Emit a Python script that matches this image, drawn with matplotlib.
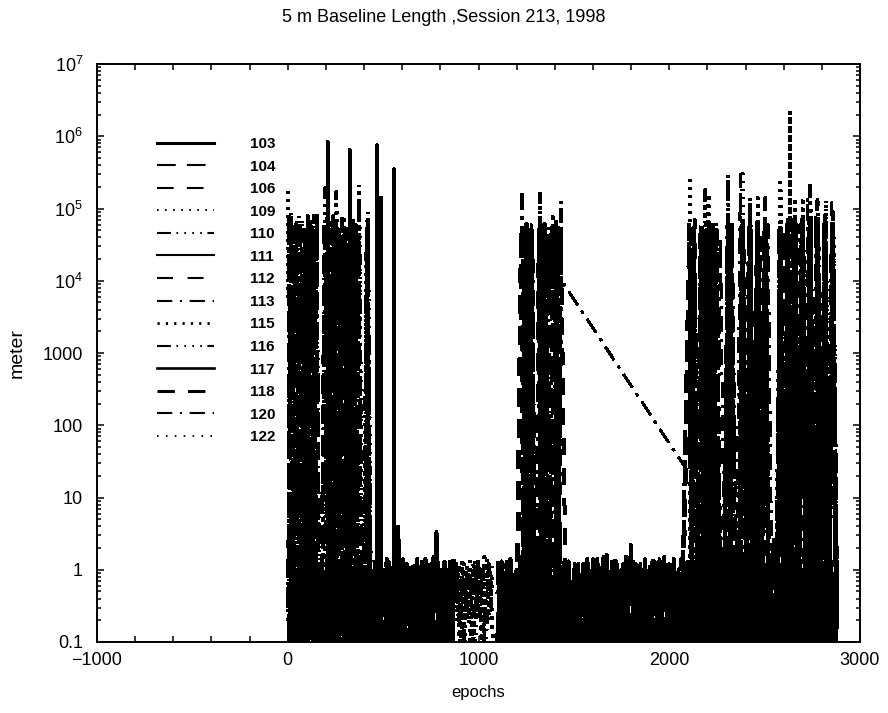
import numpy as np
import matplotlib
matplotlib.use("Agg")
import matplotlib.pyplot as plt
from matplotlib.lines import Line2D
from matplotlib.ticker import FixedLocator, FixedFormatter, MultipleLocator, LogLocator, NullFormatter

plt.rcParams['font.family'] = ['Liberation Sans', 'DejaVu Sans']
plt.rcParams['lines.scale_dashes'] = False

# ---------------- data (epochs, metres) ----------------
SATELLITES = ['103', '104', '106', '109', '110', '111', '112', '113', '115', '116', '117', '118', '120', '122']

Y_TICKS = [0.1, 1, 10, 100, 1000, 1e4, 1e5, 1e6, 1e7]
Y_TICK_LABELS = ['0.1', '1', '10', '100', '1000', r'$\mathregular{10^{4}}$', r'$\mathregular{10^{5}}$',
                 r'$\mathregular{10^{6}}$', r'$\mathregular{10^{7}}$']
X_TICKS = [-1000, 0, 1000, 2000, 3000]
X_TICK_LABELS = ['\u22121000', '0', '1000', '2000', '3000']

# low band, solid satellites (two tracking spans)
L103_A = [0.04, 1.3, 0.06, 1.1, 0.03, 1.6, 0.08, 0.9, 0.05, 1.4, 0.02, 1.2, 0.07, 1.0, 0.04, 1.5, 0.1, 1.2,
          0.03, 0.8, 0.06, 1.3, 0.05, 3.9, 0.04, 1.1, 0.08, 1.4, 0.03, 1.2, 0.06, 3.3, 0.05, 1.0, 0.09, 1.2]
L103_B = [0.05, 1.2, 0.03, 1.4, 0.07, 1.1, 0.04, 1.3, 0.02, 1.0, 0.06, 1.5, 0.03, 1.2, 0.08, 1.3, 0.05, 0.9,
          0.04, 1.4, 0.06, 1.1, 0.03, 1.6, 0.05, 1.2, 0.02, 1.3, 0.07, 1.0, 0.04, 1.4, 0.06, 1.2, 0.03, 1.5,
          0.05, 1.1, 0.08, 1.3, 0.04, 1.2, 0.02, 1.4, 0.06, 1.0, 0.03, 1.3, 0.05, 1.6, 0.04, 1.2, 0.07, 1.1,
          0.03, 1.4, 0.05, 1.3, 0.06, 1.0, 0.02, 1.5, 0.04, 1.2, 0.08, 1.3, 0.05, 1.1, 0.03, 1.4, 0.06, 1.2]
L111_A = [1.2, 0.05, 1.0, 0.03, 1.4, 0.07, 1.1, 0.04, 1.3, 0.06, 0.9, 0.02, 1.2, 0.08, 1.5, 0.05, 1.1, 0.03,
          1.3, 0.06, 1.0, 0.04, 1.2, 0.07, 1.4, 0.03, 1.1, 0.05, 1.3, 0.06, 1.2, 0.04, 1.0, 0.08, 1.3, 0.05]
L111_B = [1.1, 0.04, 1.3, 0.06, 1.0, 0.03, 1.4, 0.07, 1.2, 0.05, 1.5, 0.02, 1.1, 0.06, 1.3, 0.04, 0.9, 0.08,
          1.2, 0.03, 1.4, 0.05, 1.1, 0.06, 1.3, 0.04, 1.0, 0.07, 2.2, 0.03, 1.2, 0.05, 1.1, 0.06, 1.4, 0.04,
          1.2, 0.08, 1.0, 0.03, 1.3, 0.05, 1.5, 0.06, 1.1, 0.04, 1.2, 0.07, 1.4, 0.03, 1.0, 0.05, 1.3, 0.06,
          1.2, 0.04, 1.1, 0.08, 2.6, 0.03, 1.2, 0.05, 1.3, 0.06, 1.0, 0.04, 1.4, 0.07, 1.1, 0.03, 1.3, 0.05]
L117_A = [0.06, 1.1, 0.04, 1.5, 0.08, 1.2, 0.03, 1.0, 0.05, 1.3, 0.07, 1.1, 0.04, 1.4, 0.02, 1.2, 0.06, 0.9,
          0.05, 1.3, 0.03, 1.1, 0.07, 1.5, 0.04, 1.2, 0.06, 1.0, 0.05, 1.4, 0.03, 1.2, 0.08, 1.1, 0.04, 1.3]
L117_B = [0.03, 1.3, 0.06, 1.1, 0.04, 1.5, 0.07, 1.0, 0.05, 1.2, 0.03, 1.4, 0.08, 1.1, 0.04, 1.3, 0.06, 1.2,
          0.02, 1.0, 0.05, 1.4, 0.07, 1.1, 0.03, 1.3, 0.06, 1.5, 0.04, 1.2, 0.05, 1.0, 0.08, 1.3, 0.03, 1.1,
          0.06, 1.4, 0.04, 1.2, 0.07, 1.1, 0.05, 1.6, 0.03, 1.2, 0.06, 1.0, 0.04, 1.3, 0.08, 1.1, 0.05, 1.4,
          0.03, 1.2, 0.06, 1.3, 0.04, 1.0, 0.07, 1.5, 0.05, 1.2, 0.03, 1.1, 0.06, 1.3, 0.04, 1.4, 0.05, 1.2]

# low band, dashed satellites
L104_A = [1.1, 0.05, 1.3, 0.08, 0.9, 0.03, 1.2, 0.06, 1.4, 0.04, 1.0, 0.07, 1.2, 0.05, 1.5, 0.03, 1.1, 0.06]
L104_B = [0.06, 1.2, 0.04, 1.4, 0.08, 1.0, 0.03, 1.3, 0.05, 1.1, 0.07, 1.5, 0.04, 1.2, 0.06, 0.9, 0.03, 1.3,
          0.05, 1.4, 0.08, 1.1, 0.04, 1.2, 0.06, 1.6, 0.03, 1.0, 0.05, 1.3, 0.07, 1.2, 0.04, 1.4, 0.06, 1.1]
L106_A = [0.07, 1.2, 0.04, 1.0, 0.06, 1.4, 0.03, 1.1, 0.08, 1.3, 0.05, 0.9, 0.04, 1.2, 0.06, 1.5, 0.03, 1.1]
L106_B = [1.3, 0.05, 1.1, 0.03, 1.4, 0.07, 1.0, 0.04, 1.2, 0.06, 1.5, 0.03, 1.1, 0.05, 1.3, 0.08, 0.9, 0.04,
          1.2, 0.06, 1.4, 0.03, 1.1, 0.05, 1.3, 0.07, 1.0, 0.04, 1.6, 0.06, 1.2, 0.03, 1.3, 0.05, 1.1, 0.07]
L112_A = [1.0, 0.06, 1.3, 0.04, 1.2, 0.07, 1.5, 0.03, 1.1, 0.05, 1.4, 0.08, 1.0, 0.04, 1.2, 0.06, 1.3, 0.05]
L112_B = [0.04, 1.1, 0.07, 1.3, 0.03, 1.2, 0.05, 1.5, 0.06, 1.0, 0.04, 1.4, 0.08, 1.2, 0.03, 1.1, 0.05, 1.3,
          0.06, 1.0, 0.04, 1.4, 0.07, 1.2, 0.03, 1.5, 0.05, 1.1, 0.06, 1.3, 0.04, 1.2, 0.08, 1.0, 0.05, 1.4]
L118_A = [0.05, 1.4, 0.03, 1.1, 0.07, 1.2, 0.04, 1.6, 0.06, 1.0, 0.03, 1.3, 0.05, 1.2, 0.08, 1.1, 0.04, 1.4]
L118_B = [1.2, 0.04, 1.0, 0.06, 1.3, 0.03, 1.4, 0.05, 1.1, 0.07, 1.2, 0.04, 1.6, 0.06, 1.0, 0.03, 1.3, 0.05,
          1.2, 0.08, 1.1, 0.04, 1.4, 0.06, 1.0, 0.03, 1.2, 0.05, 1.5, 0.07, 1.1, 0.04, 1.3, 0.06, 1.2, 0.05]

# sparse dotted stretch (epochs ~880-1075)
D109 = [0.3, 1.2, 0.1, 0.9, 0.2, 1.3, 0.05, 1.0, 0.3, 1.1, 0.1, 1.4, 0.2, 0.8]
D110 = [1.1, 0.2, 0.8, 0.1, 1.2, 0.3, 0.9, 0.06, 1.3, 0.2, 1.0, 0.1, 1.2, 0.3]
D115 = [1.0, 0.1, 1.3, 0.2, 0.9, 0.05, 1.2, 0.3, 1.1, 0.1, 1.5, 0.2, 1.0, 0.1]
D122 = [0.2, 0.9, 0.08, 1.2, 0.3, 1.0, 0.1, 1.3, 0.2, 0.8, 0.05, 1.1, 0.3, 1.2]

# large-error clusters: left (0-430)
C104_L = [0.3, 4e4, 0.2, 6e4, 0.4, 5e4, 0.3, 8e4, 0.2, 5e4, 0.3, 0.2, 0.4, 7e4, 0.3, 5e4, 0.2, 6e4, 0.4, 4e4,
          0.3, 5e4, 0.2, 7e4, 0.3, 4e4, 0.3, 0.2, 5e4, 0.4]
C106_L = [6e4, 0.3, 5e4, 0.2, 7e4, 0.4, 4e4, 0.3, 6e4, 0.2, 8e4, 0.3, 0.2, 0.4, 5e4, 0.3, 7e4, 0.2, 4e4, 0.3,
          6e4, 0.4, 5e4, 0.2, 6e4, 0.3, 0.4, 0.2, 7e4, 0.3]
C109_L = [1.7e5, 0.3, 6e4, 0.2, 8e4, 0.4, 5e4, 0.3, 7e4, 0.2, 4e4, 0.5, 0.3, 0.4, 9e4, 0.3, 6e4, 0.2, 5e4, 0.4,
          7e4, 0.3, 3e5, 0.2, 6e4, 0.4, 0.3, 0.2, 5e4, 0.3]
C110_L = [0.3, 9e4, 0.4, 5e4, 0.2, 7e4, 0.3, 6e4, 0.5, 8e4, 0.2, 0.4, 0.3, 1.9e5, 0.2, 5e4, 0.4, 1.7e5, 0.3, 6e4,
          0.2, 4e4, 0.3, 7e4, 0.4, 2.1e5, 0.3, 0.2, 9e4, 0.4]
C116_L = [8e4, 0.2, 4e4, 0.3, 6e4, 0.4, 3e4, 0.2, 7e4, 0.3, 5e4, 0.2, 0.4, 0.3, 6e4, 0.2, 8e4, 0.4, 5e4, 0.3,
          4e4, 0.2, 6e4, 0.3, 5e4, 0.4, 0.2, 0.3, 4e4, 0.2]
C122_L = [0.2, 5e4, 0.3, 7e4, 0.4, 4e4, 0.2, 9e4, 0.3, 5e4, 0.4, 0.2, 0.3, 6e4, 0.4, 7e4, 0.2, 5e4, 0.3, 8e4,
          0.2, 6e4, 0.4, 5e4, 0.3, 7e4, 0.2, 0.4, 6e4, 0.3]
# middle (1227-1430)
C112_M = [0.4, 6e4, 0.3, 5e4, 0.2, 0.3, 0.4, 0.2, 6e4, 0.3, 5e4, 0.2, 0.4, 7e4, 0.3, 5e4]
C113_M = [1.6e5, 0.3, 4e4, 0.2, 5e4, 0.4, 0.3, 1.6e5, 0.2, 4e4, 0.3, 0.4, 7.7e4, 0.2, 3e4, 0.3]
C116_M = [0.3, 5e4, 0.2, 3e4, 0.4, 0.3, 0.2, 0.4, 5e4, 0.3, 6e4, 0.2, 0.3, 4e4, 0.2, 1.3e5]
C118_M = [5e4, 0.2, 6e4, 0.3, 4e4, 0.2, 0.3, 5e4, 0.4, 6e4, 0.2, 0.3, 5e4, 0.4, 6e4, 0.3]
C120_M = [0.2, 3e4, 0.4, 6e4, 0.3, 0.2, 0.4, 5e4, 0.3, 4e4, 0.2, 0.3, 0.4, 5e4, 0.3, 1e4]
# right (2107-2880)
C104_R = [0.4, 5e4, 0.3, 0.2, 4e4, 0.3, 6e4, 0.2, 0.3, 0.4, 6e4, 0.2, 0.3, 0.2, 5e4, 0.3, 6e4, 0.2, 5e4, 0.4,
          6e4, 0.3, 0.2, 0.3, 5e4, 0.2, 6e4, 0.4, 7e4, 0.3, 5e4, 0.2, 6e4, 0.3, 7e4, 0.4, 5e4, 0.2, 6e4, 0.3]
C106_R = [6e4, 0.3, 0.2, 5e4, 0.3, 4e4, 0.2, 5e4, 0.3, 0.2, 0.4, 6e4, 0.3, 0.4, 5e4, 0.2, 7e4, 0.3, 6e4, 0.2,
          5e4, 0.4, 0.3, 0.2, 6e4, 0.3, 5e4, 0.2, 6e4, 0.4, 5e4, 0.3, 7e4, 0.2, 6e4, 0.3, 8e4, 0.2, 5e4, 0.4]
C109_R = [2.5e5, 0.3, 0.2, 5e4, 0.4, 1.6e5, 0.3, 6e4, 0.2, 0.3, 0.4, 5e4, 0.2, 0.3, 3e5, 0.4, 6e4, 0.2, 1.4e5, 0.3,
          5e4, 0.4, 0.2, 0.3, 2.6e5, 0.2, 6e4, 0.3, 5e4, 0.4, 1.4e5, 0.2, 7e4, 0.3, 8e4, 0.2, 1.3e5, 0.4, 6e4, 0.3]
C110_R = [0.3, 6e4, 0.2, 0.3, 1.8e5, 0.4, 5e4, 0.3, 0.2, 0.4, 4e4, 0.3, 0.2, 0.4, 7e4, 0.3, 1.4e5, 0.2, 6e4, 0.4,
          5e4, 0.3, 0.2, 0.4, 6e4, 0.3, 7e4, 0.2, 1.4e5, 0.3, 6e4, 0.4, 2.3e5, 0.2, 7e4, 0.3, 6e4, 0.4, 9e4, 0.2]
C112_R = [0.2, 7e4, 0.3, 0.4, 5e4, 0.2, 6e4, 0.3, 0.4, 0.3, 5e4, 0.2, 0.3, 0.4, 6e4, 0.3, 5e4, 0.2, 7e4, 0.3,
          6e4, 0.2, 0.4, 0.3, 6e4, 0.2, 7e4, 0.3, 5e4, 0.4, 6e4, 0.2, 5e4, 0.3, 6e4, 0.2, 7e4, 0.3, 6e4, 0.2]
C113_R = [5e4, 0.4, 0.3, 4e4, 0.2, 6e4, 0.3, 5e4, 0.4, 0.2, 3e5, 0.3, 0.2, 0.4, 5e4, 0.2, 6e4, 0.3, 4e4, 0.2,
          1.4e5, 0.4, 0.3, 0.2, 5e4, 0.3, 6e4, 0.4, 5e4, 0.2, 7e4, 0.3, 6e4, 0.2, 1.3e5, 0.4, 7e4, 0.3, 5e4, 0.2]
C115_R = [0.2, 4e4, 0.3, 0.4, 5e4, 0.2, 6e4, 0.3, 0.2, 0.4, 0.3, 4e4, 0.2, 0.3, 6e4, 0.4, 5e4, 0.2, 6e4, 0.3,
          4e4, 0.2, 0.3, 0.4, 5e4, 0.2, 7e4, 0.3, 6e4, 0.2, 8e4, 0.3, 5e4, 0.4, 6e4, 0.2, 7e4, 0.3, 9e4, 0.4]
C118_R = [5e4, 0.2, 0.3, 6e4, 0.4, 5e4, 0.3, 4e4, 0.2, 0.3, 0.2, 5e4, 0.4, 0.3, 5e4, 0.2, 6e4, 0.3, 4e4, 0.2,
          5e4, 0.3, 0.4, 0.2, 5e4, 0.3, 6e4, 0.2, 5e4, 0.3, 7e4, 0.4, 5e4, 0.2, 6e4, 0.3, 5e4, 0.4, 6e4, 0.3]
C122_R = [0.3, 5e4, 0.2, 0.4, 6e4, 0.3, 4e4, 0.2, 0.3, 0.2, 5e4, 0.3, 0.4, 0.2, 6e4, 0.3, 5e4, 0.4, 6e4, 0.2,
          4e4, 0.3, 0.2, 0.3, 7e4, 0.4, 6e4, 0.2, 5e4, 0.3, 7e4, 0.2, 6e4, 0.4, 8e4, 0.3, 6e4, 0.2, 7e4, 0.3]
C120_R = [15, 2, 0.3, 5e4, 0.2, 0.4, 4e4, 0.3, 0.2, 6e4, 0.4, 3e5, 0.2, 5e4, 0.3, 0.4, 4e4, 0.2, 6e4, 0.3,
          0.2, 0.4, 5e4, 0.3, 7e4, 0.2, 6e4, 0.4, 1.4e5, 0.3, 8e4, 0.2, 6e4, 0.3, 1.2e5, 0.2]

# isolated spikes (epoch, value)
SPK103_EP = [209, 210, 211, 324, 325, 326, 466, 467, 468, 556, 557, 558]
SPK103_VAL = [0.3, 8.3e5, 0.3, 0.3, 6.4e5, 0.3, 0.3, 7.5e5, 0.3, 0.3, 3.5e5, 0.3]
SPK117_EP = [487, 488, 489]
SPK117_VAL = [0.3, 1.4e5, 0.3]
SPK115_EP = [2631, 2632, 2633]
SPK115_VAL = [0.5, 2.2e6, 0.5]
PT116_EP = [900]
PT116_VAL = [1.0]


def seg(a, b, vals):
    return np.linspace(a, b, len(vals)), np.asarray(vals, float)


def pts(ep, vals):
    return np.asarray(ep, float), np.asarray(vals, float)


# each series: list of groups (separated by data gaps); each group merged in epoch order
SERIES = {
    '103': [[seg(0, 880, L103_A), pts(SPK103_EP, SPK103_VAL)], [seg(1092, 2880, L103_B)]],
    '104': [[seg(3, 870, L104_A), seg(0, 430, C104_L)], [seg(1095, 2878, L104_B), seg(2110, 2878, C104_R)]],
    '106': [[seg(9, 865, L106_A), seg(4, 434, C106_L)], [seg(1100, 2874, L106_B), seg(2105, 2876, C106_R)]],
    '109': [[seg(0, 430, C109_L)], [seg(882, 1072, D109)], [seg(2107, 2880, C109_R)]],
    '110': [[seg(3, 433, C110_L)], [seg(884, 1068, D110)], [seg(2110, 2877, C110_R)]],
    '111': [[seg(12, 875, L111_A)], [seg(1100, 2872, L111_B)]],
    '112': [[seg(15, 872, L112_A)], [seg(1098, 2880, L112_B), seg(1230, 1432, C112_M), seg(2113, 2879, C112_R)]],
    '113': [[seg(1229, 1428, C113_M)], [seg(2112, 2875, C113_R)]],
    '115': [[seg(886, 1075, D115)], [seg(2104, 2878, C115_R), pts(SPK115_EP, SPK115_VAL)]],
    '116': [[seg(6, 428, C116_L)], [pts(PT116_EP, PT116_VAL), seg(1232, 1433, C116_M)]],
    '117': [[seg(6, 870, L117_A), pts(SPK117_EP, SPK117_VAL)], [seg(1096, 2876, L117_B)]],
    '118': [[seg(21, 868, L118_A)], [seg(1104, 2876, L118_B), seg(1225, 1425, C118_M), seg(2108, 2874, C118_R)]],
    '120': [[seg(1236, 1436, C120_M), seg(2144, 2872, C120_R)]],
    '122': [[seg(2, 436, C122_L)], [seg(878, 1070, D122)], [seg(2109, 2880, C122_R)]],
}

DASH = {
    '103': None, '111': None, '117': None,
    '104': (13.5, 8), '106': (12, 9.5), '112': (11.5, 10.5), '118': (12.5, 9.5),
    '109': (1.2, 4.6), '122': (1.2, 5.2), '115': (1.6, 4.4),
    '110': (10, 4, 1.2, 4.5, 1.2, 4.5, 1.2, 4.5, 1.2, 4), '116': (10, 4, 1.2, 4.5, 1.2, 4.5, 1.2, 4.5, 1.2, 4),
    '113': (11, 5.5, 1.5, 5.5), '120': (11, 5.5, 1.5, 5.5),
}
DATA_LW = {'103': 2.2, '104': 2.0, '106': 2.0, '109': 1.8, '110': 1.8, '111': 2.0, '112': 2.0,
           '113': 1.8, '115': 2.2, '116': 1.8, '117': 2.2, '118': 2.6, '120': 1.4, '122': 1.8}
LEG_LW = {'103': 2.2, '104': 1.5, '106': 1.5, '109': 1.4, '110': 1.5, '111': 1.5, '112': 1.5,
          '113': 1.5, '115': 2.0, '116': 1.5, '117': 1.9, '118': 2.2, '120': 1.5, '122': 1.3}


def assemble(groups):
    xs, ys = [], []
    for g in groups:
        x = np.concatenate([s[0] for s in g])
        y = np.concatenate([s[1] for s in g])
        o = np.argsort(x, kind='stable')
        xs.extend([x[o], [np.nan]])
        ys.extend([y[o], [np.nan]])
    return np.concatenate(xs), np.concatenate(ys)


def style(sat, lw):
    d = dict(color='black', lw=lw, antialiased=False)
    if DASH[sat] is None:
        d['ls'] = '-'
    else:
        d['dashes'] = DASH[sat]
    return d


# ---------------- figure ----------------
fig = plt.figure(figsize=(8.88, 7.13), dpi=100)
ax = fig.add_axes([97 / 888, 71 / 713, 763 / 888, 578 / 713])

handles = []
for sat in SATELLITES:
    x, y = assemble(SERIES[sat])
    ax.plot(x, y, **style(sat, DATA_LW[sat]))
    handles.append(Line2D([], [], label=sat, **style(sat, LEG_LW[sat])))

ax.set_yscale('log')
ax.set_xlim(-1000, 3000)
ax.set_ylim(0.1, 1e7)

ax.xaxis.set_major_locator(FixedLocator(X_TICKS))
ax.xaxis.set_major_formatter(FixedFormatter(X_TICK_LABELS))
ax.xaxis.set_minor_locator(MultipleLocator(200))
ax.yaxis.set_major_locator(FixedLocator(Y_TICKS))
ax.yaxis.set_major_formatter(FixedFormatter(Y_TICK_LABELS))
ax.yaxis.set_minor_locator(LogLocator(base=10, subs=np.arange(2, 10)))
ax.yaxis.set_minor_formatter(NullFormatter())

ax.tick_params(which='both', direction='in', top=True, right=True, width=1.1, labelsize=13)
ax.tick_params(axis='x', which='both', length=4, pad=7.5)
ax.tick_params(axis='y', which='major', length=5, pad=10)
ax.tick_params(axis='y', which='minor', length=3)
for sp in ax.spines.values():
    sp.set_linewidth(1.4)

ax.set_xlabel('epochs', fontsize=12, labelpad=11)
ax.set_ylabel('meter', fontsize=14)
ax.yaxis.set_label_coords(-0.094, 0.5)
fig.text(0.5, 1 - 18 / 713, '5 m Baseline Length ,Session 213, 1998', ha='center', va='center', fontsize=13)

leg = ax.legend(handles=handles, loc='upper left', bbox_to_anchor=((157 - 97) / 763, (642 - 137) / 578),
                frameon=False, borderaxespad=0, borderpad=0, handlelength=3.7, handletextpad=2.4,
                labelspacing=0.56, prop={'size': 11, 'weight': 'bold'})

fig.savefig('out.png', dpi=100)
